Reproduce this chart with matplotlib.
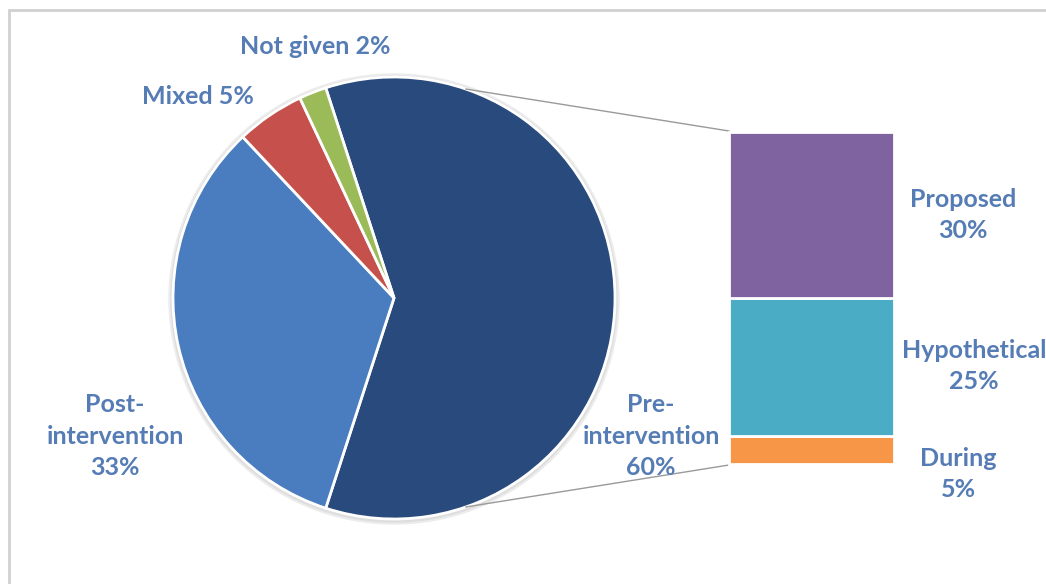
import numpy as np
import matplotlib.pyplot as plt
from matplotlib.patches import Rectangle, Circle

# pie data
pie_labels = ['Pre-\nintervention', 'Post-\nintervention', 'Mixed', 'Not given']
pie_values = [60, 33, 5, 2]
pie_colors = ['#284A7C', '#4A7DC0', '#C5504C', '#9BBB59']

# breakdown of the pre-intervention slice
bar_labels = ['During', 'Hypothetical', 'Proposed']
bar_values = [5, 25, 30]
bar_colors = ['#F79646', '#4BACC6', '#7F63A1']

W, H = 1046, 584
text_color = '#557CB4'

fig = plt.figure(figsize=(W / 100, H / 100), dpi=100)
ax = fig.add_axes([0, 0, 1, 1])

# pie geometry (pixel units, y up)
cx, cy, r = 394, H - 298, 221

# soft shadow
ax.add_patch(Circle((cx, cy - 1), r + 4, color='#ececec', zorder=0))
ax.add_patch(Circle((cx, cy - 1), r + 2, color='#dedede', zorder=0))

wedges, _ = ax.pie(pie_values, colors=pie_colors, startangle=108, counterclock=False,
                   center=(cx, cy), radius=r,
                   wedgeprops=dict(edgecolor='white', linewidth=2))

# stacked bar
bar_x, bar_w = 811.5, 165
bar_bottom = H - 464
scale = 332 / sum(bar_values)
heights = np.array(bar_values) * scale
bottoms = bar_bottom + np.concatenate([[0], np.cumsum(heights)[:-1]])
ax.bar(bar_x, heights, width=bar_w, bottom=bottoms, color=bar_colors,
       edgecolor='white', linewidth=2, zorder=3)

# connector lines
ang = np.deg2rad(71)
top = bar_bottom + heights.sum()
ax.plot([cx + r * np.cos(ang), bar_x - bar_w / 2], [cy + r * np.sin(ang), top + 1],
        color='#9a9a9a', lw=1, zorder=1)
ax.plot([cx + r * np.cos(ang), bar_x - bar_w / 2], [cy - r * np.sin(ang), bar_bottom - 1],
        color='#9a9a9a', lw=1, zorder=1)

# labels
font = dict(fontsize=18, fontweight='bold', color=text_color, family=['Lato', 'DejaVu Sans'],
            ha='center', va='center', linespacing=1.45)
pie_pos = [(651, 436), (115, 436), (198, 96), (315, 47)]
pie_sep = ['\n', '\n', ' ', ' ']
for lab, v, sep, (px, py) in zip(pie_labels, pie_values, pie_sep, pie_pos):
    ax.text(px, H - py, f'{lab}{sep}{v}%', **font)

bar_pos = [(958, 474), (974, 366), (963, 215)]
for lab, v, (px, py) in zip(bar_labels, bar_values, bar_pos):
    ax.text(px, H - py, f'{lab}\n{v}%', **font)

# outer frame (only top and left edges visible)
ax.add_patch(Rectangle((9, -20), W + 20, H - 10 + 20, fill=False, edgecolor='#d0d0d0', lw=2))

ax.set_xlim(0, W)
ax.set_ylim(0, H)
ax.set_aspect('equal')
ax.axis('off')

fig.savefig('out.png', dpi=100)
